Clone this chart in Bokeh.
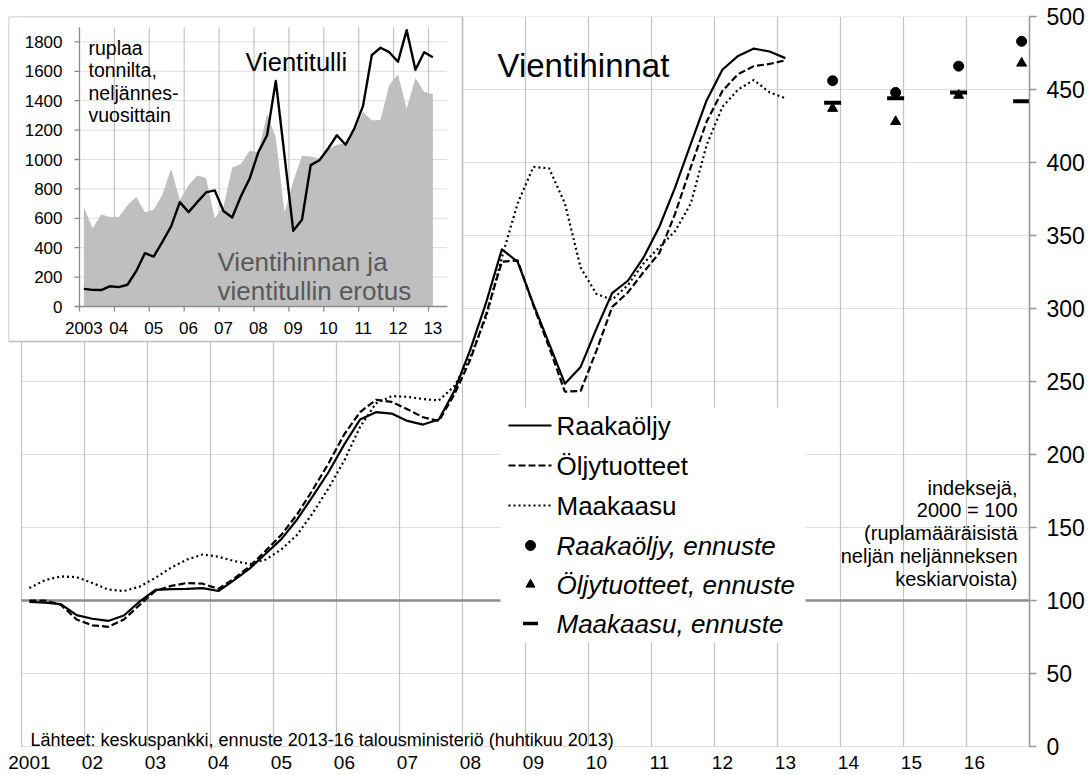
from bokeh.plotting import figure
from bokeh.models import Range1d, LinearAxis, FixedTicker
from bokeh.core.properties import value
from bokeh.embed import file_html
from bokeh.resources import INLINE

FONT = "Liberation Sans"
F = value(FONT)

# ------------------------------------------------------------------ data
main_first_year = 2001          # quarterly series 2001Q1 .. 2013Q1 (index 2000 = 100)
raakaoljy = [99, 98.6, 97.5, 90, 87.5, 86, 89.7, 99.3, 107.3, 107.8, 108, 108.5, 106.5,
             114, 122, 132, 142, 155.5, 171.5, 188, 207, 224, 229, 228, 223, 220.5, 224,
             244, 272, 304, 340.5, 332, 303, 276, 248.5, 260, 286, 310.5, 319, 335, 356,
             383, 413, 442.5, 463.5, 473, 478, 476, 471.5]
oljytuotteet = [100, 100, 97, 87, 83, 82, 87, 97, 106.5, 110, 112, 111.5, 108,
                115, 123.5, 134, 145, 159, 176, 194, 214, 229, 237.5, 236, 231, 225.5, 223,
                241.5, 265, 296, 332, 333, 302, 273.5, 243, 243.5, 271, 301, 311, 325, 338,
                365, 397, 428, 449, 460.5, 466, 467.5, 470]
maakaasu = [108.5, 114, 116.5, 116, 112, 107.5, 106.5, 109.5, 115.5, 122.5, 128, 131.5, 130,
            127, 125, 128, 135, 145, 160, 177, 196, 219, 235, 240, 239.5, 238, 237,
            247, 267, 294, 335, 372, 397, 396, 372, 328, 310, 306, 316, 331, 342,
            353, 372, 412, 438, 450, 456.5, 448, 444]

forecast_years = [2013, 2014, 2015, 2016]
raakaoljy_ennuste = [456, 448, 466, 483]
oljytuotteet_ennuste = [437, 428, 446, 468]
maakaasu_ennuste = [441, 444, 448, 442]

main_years = list(range(2001, 2017))
main_year_labels = ["2001", "02", "03", "04", "05", "06", "07", "08", "09", "10",
                    "11", "12", "13", "14", "15", "16"]
main_y_ticks = [0, 50, 100, 150, 200, 250, 300, 350, 400, 450, 500]
base_level = 100

inset_first_year = 2003         # quarterly 2003Q1 .. 2013Q1, roubles per tonne
vientitulli = [120, 113, 112, 138, 132, 148, 240, 363, 340, 440, 545, 710, 642, 710, 776,
               790, 650, 606, 750, 870, 1050, 1165, 1535, 1025, 515, 590, 962, 995, 1075,
               1165, 1100, 1210, 1365, 1710, 1760, 1730, 1665, 1880, 1610, 1730, 1695]
erotus = [676, 533, 626, 608, 608, 688, 745, 642, 658, 760, 937, 722, 824, 892, 875,
          600, 680, 945, 970, 1060, 1050, 1310, 1150, 640, 850, 1025, 1020, 1005, 1070,
          1100, 1110, 1185, 1325, 1265, 1270, 1505, 1580, 1345, 1555, 1460, 1445]
inset_years = list(range(2003, 2014))
inset_year_labels = ["2003", "04", "05", "06", "07", "08", "09", "10", "11", "12", "13"]
inset_y_ticks = [0, 200, 400, 600, 800, 1000, 1200, 1400, 1600, 1800]
inset_y_top = 1900

legend_labels = ["Raakaöljy", "Öljytuotteet", "Maakaasu",
                 "Raakaöljy, ennuste", "Öljytuotteet, ennuste", "Maakaasu, ennuste"]
note_lines = ["indeksejä,", "2000 = 100", "(ruplamääräisistä", "neljän neljänneksen",
              "keskiarvoista)"]
unit_lines = ["ruplaa", "tonnilta,", "neljännes-", "vuosittain"]
title_text = "Vientihinnat"
inset_title = "Vientitulli"
area_lines = ["Vientihinnan ja", "vientitullin erotus"]
source_text = "Lähteet: keskuspankki, ennuste 2013-16 talousministeriö (huhtikuu 2013)"

# ------------------------------------------------------------------ layout (page pixels)
FIG_W, FIG_H = 1091, 775
FL, FR, FT, FB = 8, 1029, 16, 775       # frame edges on the page
MX0, MXS = 21.0, 63.0                   # page x of 2001, px per year
MY0, MYS = 746.0, 1.46                  # page y of index 0, px per index point
IX0, IXS = 79.0, 34.9                   # inset: page x of 2003, px per year
IY0, IYS = 306.0, 0.147                 # inset: page y of 0, px per rouble
IXR = 447.0                             # inset plot area right edge

main_x = Range1d(main_years[0] - (MX0 - FL) / MXS, main_years[0] + (FR - MX0) / MXS)
main_y = Range1d(-(FB - MY0) / MYS, (MY0 - FT) / MYS)
ix = Range1d(inset_years[0] - (IX0 - FL) / IXS, inset_years[0] + (FR - IX0) / IXS)
iy = Range1d(-(FB - IY0) / IYS, (IY0 - FT) / IYS)
inset_x_end = inset_years[0] + (IXR - IX0) / IXS

p = figure(width=FIG_W, height=FIG_H, output_backend="svg", toolbar_location=None,
           title=None, x_range=main_x, y_range=main_y, x_axis_type=None, y_axis_type=None,
           min_border_left=FL, min_border_right=FIG_W - FR, min_border_top=FT,
           min_border_bottom=FIG_H - FB, outline_line_color=None,
           background_fill_color="white", border_fill_color="white")
p.extra_x_ranges = {"px": Range1d(FL, FR), "ix": ix}
p.extra_y_ranges = {"py": Range1d(FB, FT), "iy": iy}

GRID = "#C4C4C4"

# ---- main grid
p.segment(x0=main_years, x1=main_years, y0=0, y1=main_y_ticks[-1],
          line_color=GRID, line_width=1.2)
dotted = [t for t in main_y_ticks if t != base_level]
p.segment(x0=main_years[0], x1=main_x.end, y0=dotted, y1=dotted,
          line_color="#BDBDBD", line_dash="1 1", line_width=1)
p.segment(x0=main_years[0], x1=main_x.end, y0=base_level, y1=base_level,
          line_color="#8C8C8C", line_width=2.6)

# ---- series
xq = [main_first_year + (i + 0.5) / 4 for i in range(len(raakaoljy))]
p.line(xq, maakaasu, line_color="black", line_width=2.2, line_dash="2 3")
p.line(xq, oljytuotteet, line_color="black", line_width=2.2, line_dash="7 3")
p.line(xq, raakaoljy, line_color="black", line_width=2.2, line_join="round")

xf = [y + 0.875 for y in forecast_years]
p.scatter(xf, raakaoljy_ennuste, marker="circle", size=10, color="black")
p.scatter(xf, oljytuotteet_ennuste, marker="triangle", size=10, color="black")
p.scatter(xf, maakaasu_ennuste, marker="dash", size=17, line_width=4, line_color="black")

# ---- right axis
ax = LinearAxis(ticker=FixedTicker(ticks=main_y_ticks), bounds=(0, 500))
ax.axis_line_color = "#969696"
ax.axis_line_width = 1.5
ax.major_tick_line_color = "#969696"
ax.major_tick_line_width = 1.5
ax.major_tick_out = 7
ax.major_tick_in = 0
ax.minor_tick_line_color = None
ax.major_label_text_font = FONT
ax.major_label_text_font_size = "23px"
ax.major_label_text_color = "black"
ax.major_label_standoff = 10
p.add_layout(ax, "right")

# ---- bottom year labels
p.text(x=[y + 0.125 for y in main_years], y=762, text=main_year_labels, y_range_name="py",
       text_font=F, text_font_size="19px", text_align="center",
       text_baseline="middle", text_color="black")

# ---- texts
p.text(x=[497], y=[65], text=[title_text], x_range_name="px", y_range_name="py",
       text_font=F, text_font_size="33px", text_baseline="alphabetic", text_color="black")
p.text(x=1017, y=[487, 509.5, 532, 555, 578], text=note_lines, x_range_name="px",
       y_range_name="py", text_font=F, text_font_size="20px", text_align="right",
       text_baseline="middle", text_color="black")
p.text(x=[30], y=[739], text=[source_text], x_range_name="px", y_range_name="py",
       text_font=F, text_font_size="18px", text_baseline="alphabetic", text_color="black")

# ---- legend (manual, white box over the grid)
p.quad(left=[500], right=[805], top=[407], bottom=[642], x_range_name="px",
       y_range_name="py", fill_color="white", line_color=None)
rows = [425, 465, 505, 545, 584, 623]
LX0, LX1, LM, LT = 508, 551, 530, 556
p.segment(x0=LX0, x1=LX1, y0=rows[0], y1=rows[0], x_range_name="px", y_range_name="py",
          line_color="black", line_width=2.2)
p.segment(x0=LX0, x1=LX1, y0=rows[1], y1=rows[1], x_range_name="px", y_range_name="py",
          line_color="black", line_width=2.2, line_dash="7 3")
p.segment(x0=LX0, x1=LX1, y0=rows[2], y1=rows[2], x_range_name="px", y_range_name="py",
          line_color="black", line_width=2.2, line_dash="2 3")
p.scatter([LM], [rows[3]], marker="circle", size=10, color="black",
          x_range_name="px", y_range_name="py")
p.scatter([LM], [rows[4]], marker="triangle", size=9, color="black",
          x_range_name="px", y_range_name="py")
p.scatter([LM], [rows[5]], marker="dash", size=15, line_width=3.5, line_color="black",
          x_range_name="px", y_range_name="py")
p.text(x=LT, y=rows[:3], text=legend_labels[:3], x_range_name="px", y_range_name="py",
       text_font=F, text_font_size="26px", text_baseline="middle", text_color="black")
p.text(x=LT, y=rows[3:], text=legend_labels[3:], x_range_name="px", y_range_name="py",
       text_font=F, text_font_size="26px", text_font_style="italic",
       text_baseline="middle", text_color="black")

# ---- inset
p.quad(left=[FL], right=[462], top=[FT], bottom=[341], x_range_name="px",
       y_range_name="py", fill_color="white", line_color="#BFBFBF", line_width=1.6)
p.segment(x0=inset_years[1:], x1=inset_years[1:], y0=0, y1=inset_y_top,
          x_range_name="ix", y_range_name="iy", line_color=GRID, line_width=1.2)
p.segment(x0=inset_years[0], x1=inset_x_end, y0=inset_y_ticks[1:], y1=inset_y_ticks[1:],
          x_range_name="ix", y_range_name="iy", line_color="#BDBDBD",
          line_dash="1 1", line_width=1)
xi = [inset_first_year + (i + 0.5) / 4 for i in range(len(vientitulli))]
p.varea(x=xi, y1=0, y2=erotus, x_range_name="ix", y_range_name="iy",
        fill_color="#BFBFBF")
p.line(xi, vientitulli, x_range_name="ix", y_range_name="iy", line_color="black",
       line_width=2.4, line_join="round")
# inset axes
AXC = "#8C8C8C"
p.segment(x0=inset_years[0], x1=inset_x_end, y0=0, y1=0, x_range_name="ix",
          y_range_name="iy", line_color=AXC, line_width=1.3)
p.segment(x0=inset_years[0], x1=inset_years[0], y0=0, y1=inset_y_top, x_range_name="ix",
          y_range_name="iy", line_color=AXC, line_width=1.3)
p.segment(x0=inset_years, x1=inset_years, y0=0, y1=-5 / IYS, x_range_name="ix",
          y_range_name="iy", line_color=AXC, line_width=1.3)
p.segment(x0=inset_years[0] - 5 / IXS, x1=inset_years[0], y0=inset_y_ticks,
          y1=inset_y_ticks, x_range_name="ix", y_range_name="iy", line_color=AXC,
          line_width=1.3)
p.text(x=inset_years[0] - 17 / IXS, y=inset_y_ticks, text=[str(t) for t in inset_y_ticks],
       x_range_name="ix", y_range_name="iy", text_font=F, text_font_size="17px",
       text_align="right", text_baseline="middle", text_color="black")
p.text(x=[y + 0.125 for y in inset_years], y=327, text=inset_year_labels,
       x_range_name="ix", y_range_name="py", text_font=F, text_font_size="17px",
       text_align="center", text_baseline="middle", text_color="black")
# inset texts
p.text(x=88, y=[47, 69.5, 92, 114], text=unit_lines, x_range_name="px", y_range_name="py",
       text_font=F, text_font_size="19.5px", text_baseline="alphabetic", text_color="black")
p.text(x=[245], y=[61], text=[inset_title], x_range_name="px", y_range_name="py",
       text_font=F, text_font_size="25.5px", text_baseline="alphabetic", text_color="black")
p.text(x=217, y=[261, 290], text=area_lines, x_range_name="px", y_range_name="py",
       text_font=F, text_font_size="26px", text_baseline="alphabetic", text_color="#595959")

open("out.html", "w").write(file_html(p, INLINE))
